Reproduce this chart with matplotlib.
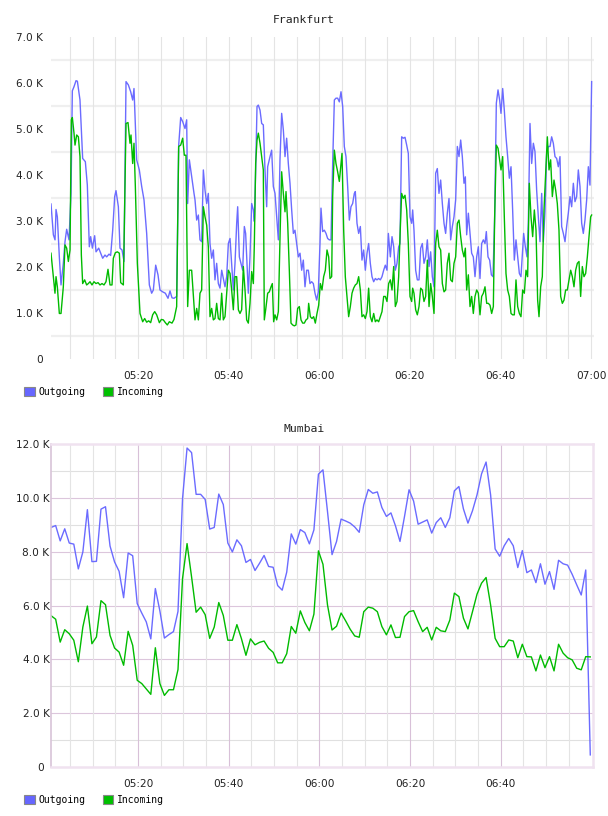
import numpy as np
import matplotlib
matplotlib.use('Agg')
from matplotlib import pyplot as plt
from matplotlib.patches import Patch
from matplotlib.transforms import ScaledTranslation

# Frankfurt: minutes after 05:00 and values in K
fra_out_t = [0.77, 1.29, 1.66, 1.88, 2.17, 2.61, 2.98, 3.49, 3.86, 4.23,
             4.75, 5.19, 5.48, 5.85, 6.29, 6.59, 7.17, 7.76, 8.35, 8.79,
             9.23, 9.53, 9.90, 10.41, 10.71, 11.30, 11.74, 12.18, 12.69, 13.06,
             13.58, 13.94, 14.39, 14.83, 15.12, 15.64, 16.00, 16.45, 16.89, 17.33,
             17.84, 18.36, 18.80, 19.09, 19.68, 20.27, 20.79, 21.30, 21.89, 22.48,
             22.99, 23.36, 23.88, 24.39, 24.83, 25.42, 26.01, 26.60, 27.04, 27.48,
             27.93, 28.51, 28.96, 29.40, 29.84, 30.35, 30.72, 30.94, 31.31, 31.83,
             32.34,
             32.56, 32.93, 33.30, 33.66, 34.03, 34.40, 34.77, 35.14, 35.50, 35.87,
             36.24, 36.61, 36.97, 37.34, 37.71, 38.08, 38.45, 38.81, 39.18, 39.55,
             39.92, 40.29, 40.65, 41.02, 41.39, 41.76, 41.98, 42.35, 42.71, 43.08,
             43.45, 43.74, 44.04, 44.33, 44.70, 45.07, 45.44, 45.66, 45.95, 46.25,
             46.54, 46.91, 47.28, 47.64, 48.01, 48.38, 48.60, 49.12, 49.48, 49.85,
             50.22, 50.59, 50.96, 51.32, 51.69, 52.06, 52.43, 52.79, 53.16, 53.53,
             53.90, 54.27, 54.63, 55.00, 55.37, 55.74, 56.11, 56.47, 56.84, 57.21,
             57.58, 57.94, 58.31, 58.68, 59.05, 59.42, 59.78, 60.15, 60.37, 60.74,
             61.11, 61.48, 61.84, 62.21, 62.58, 62.95, 63.32, 63.68, 64.05, 64.42,
             64.79, 65.16, 65.52, 65.89, 66.26, 66.63, 66.99, 67.36, 67.73, 67.95,
             68.32, 68.69, 69.06, 69.42, 69.79, 70.16, 70.53, 70.89, 71.26, 71.63,
             72.00, 72.37, 72.73, 73.10, 73.47, 73.84, 74.21, 74.57, 74.94, 75.24,
             75.68, 76.05, 76.42, 76.78, 77.15, 77.52,
             77.81, 78.18, 78.55, 78.92, 79.29, 79.65, 80.02, 80.39, 80.61, 80.90,
             81.27, 81.64, 82.01, 82.38, 82.74, 83.11, 83.48, 83.85, 84.22, 84.58,
             84.95, 85.32, 85.69, 86.05, 86.42, 86.79, 87.16, 87.53, 87.89, 88.26,
             88.63, 89.00, 89.37, 89.73, 90.10, 90.47, 90.84, 91.21, 91.57, 91.94,
             92.24, 92.53, 92.90, 93.27, 93.63, 94.00, 94.37, 94.74, 95.11, 95.47,
             95.84, 96.21, 96.58, 96.87, 97.24, 97.61, 97.98, 98.34, 98.71, 99.08,
             99.45, 99.81, 100.11, 100.48, 100.84, 101.21, 101.58, 101.95, 102.32, 102.68,
             103.05, 103.42, 103.79, 104.16, 104.52, 104.89, 105.11, 105.48, 105.85, 106.14,
             106.51, 106.88, 107.25, 107.61, 107.98, 108.35, 108.72, 109.09, 109.45, 109.82,
             110.19, 110.56, 110.93, 111.29, 111.66, 112.03, 112.40, 112.76, 113.13, 113.50,
             113.87, 114.24, 114.60, 114.97, 115.34, 115.71, 116.08, 116.44, 116.81, 117.18,
             117.55, 117.92, 118.28, 118.65, 119.02, 119.39, 119.75, 120.12]
fra_out = [3.37, 2.70, 2.59, 3.25, 3.09, 2.22, 1.61, 2.08, 2.55, 2.82,
           2.59, 3.60, 5.83, 5.92, 6.05, 6.04, 5.63, 4.36, 4.29, 3.78,
           2.44, 2.66, 2.41, 2.68, 2.33, 2.41, 2.30, 2.19, 2.26, 2.22,
           2.28, 2.25, 2.80, 3.53, 3.66, 3.31, 2.41, 2.37, 2.12, 6.03,
           5.96, 5.81, 5.63, 5.88, 4.33, 4.11, 3.75, 3.46, 2.73, 1.61,
           1.43, 1.50, 2.04, 1.83, 1.50, 1.46, 1.43, 1.32, 1.48, 1.33,
           1.32, 1.36, 4.65, 5.25, 5.16, 5.01, 5.20, 3.38, 4.33, 3.96,
           3.60,
           3.46, 3.02, 3.13, 2.59, 2.55, 4.11, 3.67, 3.38, 3.60, 2.51,
           2.19, 2.37, 1.72, 2.08, 1.64, 1.54, 1.93, 1.75, 1.57, 1.79,
           2.51, 2.62, 2.08, 1.50, 2.08, 2.95, 3.31, 2.22, 2.08, 1.93,
           2.88, 2.73, 2.08, 1.43, 2.22, 3.38, 3.24, 2.99, 4.11, 5.49,
           5.52, 5.41, 5.12, 5.09, 4.11, 3.31, 4.18, 4.40, 4.54, 3.75,
           3.60, 3.09, 2.59, 4.33, 5.34, 4.98, 4.40, 4.80, 4.25, 3.82,
           3.24, 2.73, 2.80, 2.51, 2.22, 2.30, 1.93, 2.15, 1.57, 1.93,
           1.93, 1.64, 1.68, 1.64, 1.43, 1.28, 1.46, 2.51, 3.28, 2.77,
           2.80, 2.73, 2.62, 2.59, 2.59, 4.25, 5.63, 5.67, 5.67, 5.59,
           5.81, 5.49, 4.62, 4.40, 3.75, 3.02, 3.31, 3.38, 3.60, 3.64,
           2.95, 2.73, 2.88, 2.15, 2.37, 1.93, 2.30, 2.51, 2.08, 1.79,
           1.68, 1.75, 1.72, 1.75, 1.72, 1.79, 1.93, 2.04, 1.93, 2.73,
           2.22, 2.66, 2.44, 1.93, 2.08, 2.44,
           2.51, 4.83, 4.80, 4.82, 4.65, 4.47, 3.09, 2.95, 3.24, 2.80,
           1.93, 1.72, 1.72, 2.41, 2.51, 2.08, 2.22, 2.59, 2.01, 2.33,
           1.79, 1.57, 4.04, 4.14, 3.60, 3.89, 3.38, 2.95, 2.73, 3.17,
           3.49, 2.59, 2.88, 3.09, 3.46, 4.62, 4.40, 4.76, 4.40, 3.82,
           3.96, 2.70, 3.17, 2.73, 2.30, 2.22, 1.79, 2.22, 2.44, 1.75,
           2.51, 2.59, 2.51, 2.77, 2.22, 2.15, 1.83, 1.79, 3.09, 5.56,
           5.85, 5.63, 5.34, 5.88, 5.41, 4.83, 4.40, 3.93, 4.18, 3.24,
           2.15, 2.59, 2.22, 1.86, 1.79, 2.37, 2.73, 2.44, 2.22, 2.95,
           5.12, 4.25, 4.69, 4.51, 3.67, 3.09, 2.55, 3.60, 2.55, 3.20,
           4.47, 4.62, 4.62, 4.83, 4.69, 4.40, 4.36, 4.18, 4.40, 2.88,
           2.73, 2.55, 2.88, 3.17, 3.53, 3.31, 3.82, 3.42, 3.53, 4.11,
           3.75, 2.95, 2.73, 3.02, 3.46, 4.18, 3.78, 6.03]

fra_in_t = [0.77, 1.29, 1.65, 1.88, 2.17, 2.61, 2.98, 3.49, 3.86, 4.23,
            4.60, 4.97, 5.26, 5.48, 5.85, 6.07, 6.44, 6.81, 7.17, 7.47,
            7.76, 8.20, 8.64, 9.01, 9.38, 9.82, 10.26, 10.70, 11.15, 11.59,
            12.03, 12.47, 12.91, 13.35, 13.80, 14.24, 14.53, 14.97, 15.41, 15.86,
            16.15, 16.74, 17.33, 17.77, 18.21, 18.43, 18.80, 19.09, 19.39, 19.83,
            20.42, 21.01, 21.45, 21.89, 22.33, 22.77, 23.21, 23.66, 24.10, 24.69,
            25.13, 25.57, 26.01, 26.45, 26.89, 27.48, 27.92, 28.51, 28.95, 29.40,
            29.84, 30.20, 30.57, 30.94, 31.31, 31.82, 32.19,
            32.56, 32.93, 33.30, 33.66, 34.03, 34.40, 34.77, 35.14, 35.50, 35.87,
            36.24, 36.61, 36.97, 37.34, 37.71, 38.08, 38.45, 38.81, 39.18, 39.55,
            39.92, 40.29, 40.65, 41.02, 41.39, 41.76, 42.13, 42.49, 42.86, 43.23,
            43.60, 43.96, 44.33, 44.70, 45.07, 45.44, 45.66, 45.95, 46.25, 46.54,
            46.91, 47.28, 47.64, 47.86, 48.16, 48.60, 48.97, 49.34, 49.63, 49.92,
            50.22, 50.59, 50.96, 51.32, 51.69, 52.06, 52.43, 52.65, 53.02, 53.38,
            53.75, 54.12, 54.49, 54.85, 55.22, 55.59, 55.96, 56.33, 56.69, 57.06,
            57.43, 57.65, 58.02, 58.39, 58.75, 59.12, 59.49, 59.86, 60.23, 60.59,
            60.96, 61.33, 61.70, 62.07, 62.36, 62.73, 62.95, 63.32, 63.68, 64.05,
            64.42, 64.79, 65.01, 65.38, 65.74, 66.11, 66.48, 66.85, 67.22, 67.58,
            67.95, 68.32, 68.69, 69.06, 69.42, 69.79, 70.16, 70.53, 70.89, 71.26,
            71.63, 72.00, 72.37, 72.73, 73.10, 73.47, 73.84, 74.21, 74.57, 74.94,
            75.31, 75.68, 76.05, 76.42, 76.78, 77.15, 77.52,
            77.81, 78.18, 78.55, 78.92, 79.29, 79.65, 80.02, 80.39, 80.61, 80.90,
            81.27, 81.64, 82.01, 82.38, 82.74, 83.11, 83.48, 83.85, 84.22, 84.58,
            84.95, 85.32, 85.69, 86.05, 86.42, 86.79, 87.16, 87.53, 87.89, 88.26,
            88.63, 89.00, 89.37, 89.73, 90.10, 90.47, 90.84, 91.21, 91.57, 91.94,
            92.24, 92.53, 92.90, 93.27, 93.63, 94.00, 94.37, 94.74, 95.11, 95.47,
            95.84, 96.21, 96.58, 96.95, 97.31, 97.68, 98.05, 98.42, 98.71, 99.08,
            99.45, 99.81, 100.11, 100.48, 100.84, 101.21, 101.58, 101.95, 102.32, 102.68,
            103.05, 103.42, 103.79, 104.16, 104.52, 104.89, 105.26, 105.63, 105.99, 106.36,
            106.73, 107.10, 107.47, 107.84, 108.20, 108.50, 108.87, 109.23, 109.60, 109.97,
            110.34, 110.71, 111.07, 111.44, 111.81, 112.18, 112.54, 112.91, 113.28, 113.65,
            114.02, 114.38, 114.75, 115.12, 115.49, 115.86, 116.22, 116.59, 116.96, 117.33,
            117.69, 118.06, 118.43, 118.80, 119.17, 119.54, 119.90, 120.12]
fra_in = [2.30, 1.79, 1.43, 1.79, 1.57, 0.99, 0.99, 1.57, 2.48, 2.41,
          2.12, 2.37, 5.20, 5.25, 4.91, 4.65, 4.87, 4.83, 4.40, 2.26,
          1.64, 1.72, 1.61, 1.64, 1.68, 1.61, 1.68, 1.64, 1.66, 1.61,
          1.64, 1.61, 1.68, 1.95, 1.61, 1.61, 2.19, 2.31, 2.33, 2.30,
          1.66, 1.61, 5.12, 5.14, 4.69, 4.87, 4.25, 4.69, 3.75, 2.08,
          0.99, 0.81, 0.88, 0.80, 0.83, 0.79, 0.96, 1.03, 0.96, 0.79,
          0.86, 0.85, 0.79, 0.74, 0.81, 0.78, 0.86, 1.14, 4.62, 4.65,
          4.80, 4.43, 4.43, 1.14, 1.93, 1.93, 1.39,
          0.85, 1.10, 0.85, 1.43, 1.50, 3.31, 3.09, 2.91, 2.44, 0.92,
          1.10, 0.85, 0.88, 1.21, 0.88, 0.85, 1.43, 0.85, 0.92, 1.43,
          1.93, 1.86, 1.50, 1.07, 1.79, 1.79, 1.07, 0.99, 1.07, 2.01,
          1.50, 0.85, 0.78, 1.21, 1.90, 1.64, 2.51, 4.25, 4.76, 4.91,
          4.69, 4.40, 4.11, 0.85, 1.07, 1.43, 1.46, 1.57, 1.64, 0.81,
          0.96, 0.85, 1.03, 2.62, 4.07, 3.60, 3.20, 3.64, 2.95, 1.93,
          0.78, 0.74, 0.72, 0.74, 1.10, 1.14, 0.85, 0.78, 0.78, 0.85,
          0.88, 1.21, 0.92, 0.88, 0.92, 0.78, 0.99, 1.17, 1.64, 1.50,
          1.79, 1.93, 2.37, 2.22, 1.75, 1.79, 3.53, 4.54, 4.25, 4.07,
          3.86, 4.25, 4.47, 2.80, 1.79, 1.36, 0.92, 1.14, 1.43, 1.54,
          1.61, 1.64, 1.79, 1.50, 0.92, 0.96, 0.88, 1.03, 1.54, 0.92,
          0.81, 0.99, 0.81, 0.85, 0.81, 0.92, 1.03, 1.36, 1.36, 1.25,
          1.64, 1.72, 1.50, 2.01, 1.14, 1.25, 1.79,
          2.66, 3.60, 3.49, 3.56, 3.24, 2.51, 1.36, 1.25, 1.54, 1.43,
          1.07, 0.96, 1.14, 1.54, 1.50, 1.25, 1.36, 2.15, 1.14, 1.64,
          1.36, 0.99, 2.51, 2.80, 2.44, 2.37, 1.64, 1.46, 1.50, 2.08,
          2.30, 1.72, 1.68, 2.08, 2.22, 2.95, 3.02, 2.66, 2.37, 2.22,
          2.41, 1.50, 1.83, 1.14, 1.36, 0.99, 1.36, 1.50, 1.43, 0.96,
          1.36, 1.43, 1.57, 1.21, 1.21, 1.17, 0.99, 1.14, 3.09, 4.65,
          4.58, 4.33, 4.11, 4.40, 3.09, 1.86, 1.50, 1.36, 0.99, 0.96,
          0.96, 1.72, 1.14, 0.99, 0.92, 1.50, 1.43, 1.93, 1.79, 3.82,
          3.09, 2.66, 3.24, 2.80, 1.28, 0.92, 1.57, 1.79, 3.24, 4.04,
          4.83, 4.11, 4.33, 3.53, 3.89, 3.67, 3.38, 2.80, 1.36, 1.21,
          1.28, 1.50, 1.50, 1.72, 1.93, 1.79, 1.57, 1.93, 2.08, 2.12,
          1.36, 2.01, 1.79, 1.86, 2.22, 2.66, 3.09, 3.13]

# Mumbai: one sample a minute, first one at 05:00:48
mum_t0 = 0.8
mum_out = [8.90, 8.97, 8.40, 8.85, 8.32, 8.28, 7.36, 7.99, 9.56, 7.63,
           7.64, 9.58, 9.67, 8.21, 7.62, 7.27, 6.29, 7.95, 7.85, 6.07,
           5.72, 5.39, 4.76, 6.63, 5.80, 4.79, 4.92, 5.03, 5.78, 9.97,
           11.85, 11.68, 10.13, 10.13, 9.94, 8.84, 8.90, 10.14, 9.75, 8.32,
           7.99, 8.44, 8.22, 7.60, 7.71, 7.30, 7.57, 7.86, 7.45, 7.42,
           6.74, 6.57, 7.24, 8.66, 8.28, 8.82, 8.71, 8.29, 8.81, 10.88,
           11.04, 9.49, 7.89, 8.38, 9.21, 9.14, 9.06, 8.92, 8.72, 9.74,
           10.31, 10.17, 10.22, 9.64, 9.31, 9.44, 8.96, 8.38, 9.31, 10.30,
           9.88, 9.02, 9.10, 9.18, 8.69, 9.08, 9.26, 8.90, 9.26, 10.26,
           10.42, 9.59, 9.06, 9.52, 10.11, 10.89, 11.33, 10.11, 8.10, 7.83,
           8.22, 8.49, 8.22, 7.41, 8.04, 7.22, 7.32, 6.85, 7.55, 6.79,
           7.26, 6.60, 7.68, 7.55, 7.50, 7.16, 6.77, 6.39, 7.32, 0.45]
mum_in = [5.62, 5.49, 4.64, 5.10, 4.95, 4.71, 3.91, 5.20, 5.98, 4.58,
          4.83, 6.18, 6.03, 4.89, 4.42, 4.27, 3.78, 5.04, 4.52, 3.22,
          3.10, 2.90, 2.70, 4.43, 3.10, 2.66, 2.87, 2.87, 3.62, 7.00,
          8.30, 7.06, 5.75, 5.94, 5.66, 4.78, 5.20, 6.11, 5.63, 4.71,
          4.71, 5.29, 4.77, 4.15, 4.76, 4.54, 4.63, 4.68, 4.41, 4.26,
          3.87, 3.87, 4.21, 5.22, 4.97, 5.80, 5.37, 5.06, 5.68, 8.03,
          7.53, 6.02, 5.09, 5.23, 5.72, 5.43, 5.12, 4.87, 4.82, 5.77,
          5.94, 5.90, 5.77, 5.22, 4.91, 5.28, 4.81, 4.82, 5.59, 5.77,
          5.81, 5.40, 5.03, 5.19, 4.72, 5.19, 5.06, 5.03, 5.46, 6.46,
          6.33, 5.53, 5.13, 5.77, 6.42, 6.83, 7.04, 6.02, 4.78, 4.47,
          4.47, 4.72, 4.68, 4.06, 4.56, 4.10, 4.09, 3.57, 4.16, 3.69,
          4.10, 3.57, 4.56, 4.23, 4.06, 3.98, 3.67, 3.61, 4.10, 4.09]

OUT_C = '#6b6bff'
IN_C = '#00bb00'
W, H = 608, 816

fig = plt.figure(figsize=(W / 100, H / 100), dpi=100)
fig.patch.set_facecolor('white')


def box(l, t, r, b):
    # pixel box -> figure fraction rect
    return [l / W, 1 - b / H, (r - l) / W, (b - t) / H]


def fmt_k(v):
    return '0' if v == 0 else f'{v:.1f} K'


def fmt_t(m):
    return f'{5 + m // 60:02d}:{m % 60:02d}'


def setup(ax, ymax, xmax, xlabels, ypad):
    ax.set_xlim(0.77, xmax)
    ax.set_ylim(0, ymax)
    ax.set_yticks(range(0, ymax + 1, 1 if ymax < 10 else 2))
    ax.set_yticklabels([fmt_k(v) for v in ax.get_yticks()])
    ax.set_xticks(xlabels)
    ax.set_xticklabels([fmt_t(m) for m in xlabels])
    ax.tick_params(length=0, labelsize=7.6, labelcolor='#222222')
    ax.tick_params(axis='y', pad=ypad)
    ax.tick_params(axis='x', pad=8.5)


def legend(y):
    handles = [Patch(facecolor='#6666ff', edgecolor='#888888', lw=0.8),
               Patch(facecolor='#00c000', edgecolor='#888888', lw=0.8)]
    fig.legend(handles, ['Outgoing', 'Incoming'], loc='center left',
               bbox_to_anchor=(24 / W, 1 - y / H), ncol=2, frameon=False,
               prop={'family': 'DejaVu Sans Mono', 'size': 7},
               handlelength=1.1, handleheight=1.1, handletextpad=0.4,
               columnspacing=1.75, borderpad=0, borderaxespad=0)


# --- Frankfurt ---
ax1 = fig.add_axes(box(51, 37, 594, 359))
setup(ax1, 7, 120.64, [20, 40, 60, 80, 100, 120], 5.5)
for s in ax1.spines.values():
    s.set_visible(False)
for y in np.arange(0.5, 7, 1.0):
    ax1.axhline(y, color='#efefef', lw=1.6, zorder=0)
for m in range(5, 121, 5):
    ax1.axvline(m, color='#e4e4e4', lw=0.8, zorder=0)
ax1.plot(fra_out_t, fra_out, color=OUT_C, lw=1.0)
ax1.plot(fra_in_t, fra_in, color=IN_C, lw=1.0)
fig.text(0.5, 1 - 20 / H, 'Frankfurt', ha='center', va='center',
         family='DejaVu Sans Mono', size=8.2, color='#222222')
legend(392)

# --- Mumbai ---
ax2 = fig.add_axes(box(51, 444, 593, 767))
setup(ax2, 12, 120.4, [20, 40, 60, 80, 100], 1.0)
for y in range(1, 12):
    ax2.axhline(y, color='#dcc6dc' if y % 2 == 0 else '#e0e0e0', lw=0.8, zorder=0)
for m in range(5, 120, 5):
    ax2.axvline(m, color='#d8c0d8' if m % 20 == 0 else '#e4e4e4', lw=0.8, zorder=0)
for name, s in ax2.spines.items():
    s.set_color('#d8c4d8' if name == 'left' else '#f0e2f0')
    s.set_linewidth(1.2 if name == 'left' else 1.8)
mum_t = np.arange(len(mum_out)) + mum_t0
ax2.plot(mum_t, mum_out, color=OUT_C, lw=1.0)
ax2.plot(mum_t, mum_in, color=IN_C, lw=1.0)
fig.text(0.5, 1 - 429 / H, 'Mumbai', ha='center', va='center',
         family='DejaVu Sans Mono', size=8.2, color='#222222')
legend(800)

# the zero label sits a little further from the axis in the Mumbai chart
zero = ax2.yaxis.get_major_ticks()[0].label1
zero.set_transform(zero.get_transform() + ScaledTranslation(-0.06, 0, fig.dpi_scale_trans))

fig.savefig('out.png', dpi=100, facecolor='white')
